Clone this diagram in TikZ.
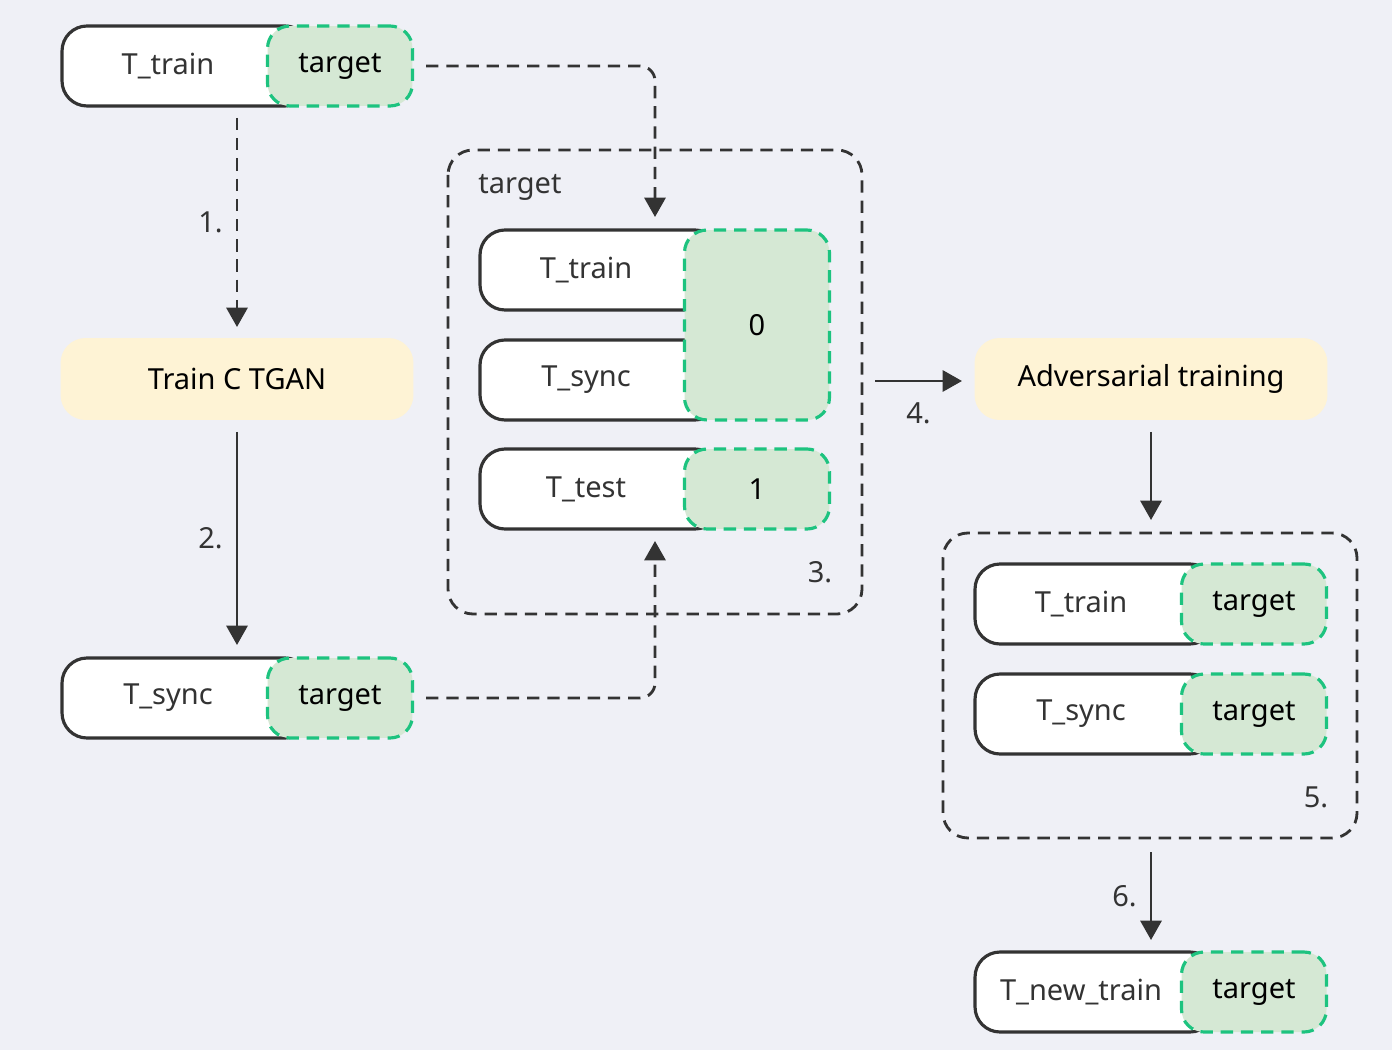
\documentclass[tikz,border=0pt]{standalone}
\usepackage{fontspec}
\setmainfont{Noto Sans}
\usetikzlibrary{arrows.meta}
\definecolor{bg}{HTML}{EFF0F6}
\definecolor{ink}{HTML}{333333}
\definecolor{grn}{HTML}{1DC37F}
\definecolor{grnfill}{HTML}{D5E8D4}
\definecolor{ylw}{HTML}{FEF3D5}
\tikzset{
  tableStyle/.style = {draw=ink, line width=1.8pt, fill=white, rounded corners=0.5cm,
    minimum width=4.96cm, minimum height=1.6cm, inner sep=0pt},
  targetStyle/.style = {draw=grn, line width=1.8pt, dash pattern=on 7pt off 4.5pt, fill=grnfill,
    rounded corners=0.45cm, minimum width=2.9cm, minimum height=1.6cm, inner sep=0pt},
  stepStyle/.style = {fill=ylw, rounded corners=0.5cm, minimum width=7.06cm, minimum height=1.64cm},
  frameStyle/.style = {draw=ink, line width=1.6pt, dash pattern=on 7pt off 4.5pt, rounded corners=0.5cm},
  flow/.style = {draw=ink, line width=1.6pt, -{Triangle[length=11pt,width=12pt]}},
  dflow/.style = {flow, dash pattern=on 7pt off 4.5pt, rounded corners=0.3cm},
  lbl/.style = {text=ink}
}
\begin{document}
\begin{tikzpicture}[x=0.02cm, y=-0.02cm, font=\fontsize{16.5}{19}\selectfont]
	\fill[bg] (0,0) rectangle (1392,1050);
	\useasboundingbox (0,0) rectangle (1392,1050);
	% frames
	\draw[frameStyle] (448,150) rectangle (862,614);
	\draw[frameStyle] (943,533) rectangle (1357,838);
	\node[lbl] (tgtLabel) at (520,187) {target};
	\node[lbl] (n3) at (820,572) {3.};
	\node[lbl] (n5) at (1316,797) {5.};
	% left column
	\node[tableStyle] (trainA) at (186,66) {};
	\node[targetStyle] (trainAt) at (340,66) {target};
	\node[lbl] at (168,66) {T\_train};
	\node[stepStyle] (ctgan) at (237,379) {Train C TGAN};
	\node[tableStyle] (syncA) at (186,698) {};
	\node[targetStyle] (syncAt) at (340,698) {target};
	\node[lbl] at (168,698) {T\_sync};
	% middle frame
	\node[tableStyle, minimum width=4.8cm] (trainB) at (600,270) {};
	\node[tableStyle, minimum width=4.8cm] (syncB) at (600,380) {};
	\node[targetStyle, minimum height=3.8cm] (zero) at (757,325) {0};
	\node[lbl] at (586,270) {T\_train};
	\node[lbl] at (586,380) {T\_sync};
	\node[tableStyle, minimum width=4.8cm] (testB) at (600,489) {};
	\node[targetStyle] (one) at (757,489) {1};
	\node[lbl] at (586,489) {T\_test};
	% right column
	\node[stepStyle] (adv) at (1151,379) {Adversarial training};
	\node[tableStyle, minimum width=4.8cm] (trainC) at (1095,604) {};
	\node[targetStyle] (trainCt) at (1254,604) {target};
	\node[lbl] at (1081,604) {T\_train};
	\node[tableStyle, minimum width=4.8cm] (syncC) at (1095,714) {};
	\node[targetStyle] (syncCt) at (1254,714) {target};
	\node[lbl] at (1081,714) {T\_sync};
	\node[tableStyle, minimum width=4.8cm] (newC) at (1095,992) {};
	\node[targetStyle] (newCt) at (1254,992) {target};
	\node[lbl] at (1081,992) {T\_new\_train};
	% connectors
	\coordinate (inTop) at (655,217);
	\coordinate (inBot) at (655,541);
	\coordinate (advIn) at (962,381);
	\draw[dflow] (237,118) -- node[lbl, left=4pt] {1.} (237,327);
	\draw[flow] (237,432) -- node[lbl, left=4pt] {2.} (237,645);
	\draw[dflow] (trainAt.east) ++(12,0) -| (inTop);
	\draw[dflow] (syncAt.east) ++(12,0) -| (inBot);
	\draw[flow] (875,381) -- node[lbl, below=8pt] {4.} (advIn);
	\draw[flow] (1151,432) -- (1151,520);
	\draw[flow] (1151,852) -- node[lbl, left=4pt] {6.} (1151,940);
\end{tikzpicture}
\end{document}
